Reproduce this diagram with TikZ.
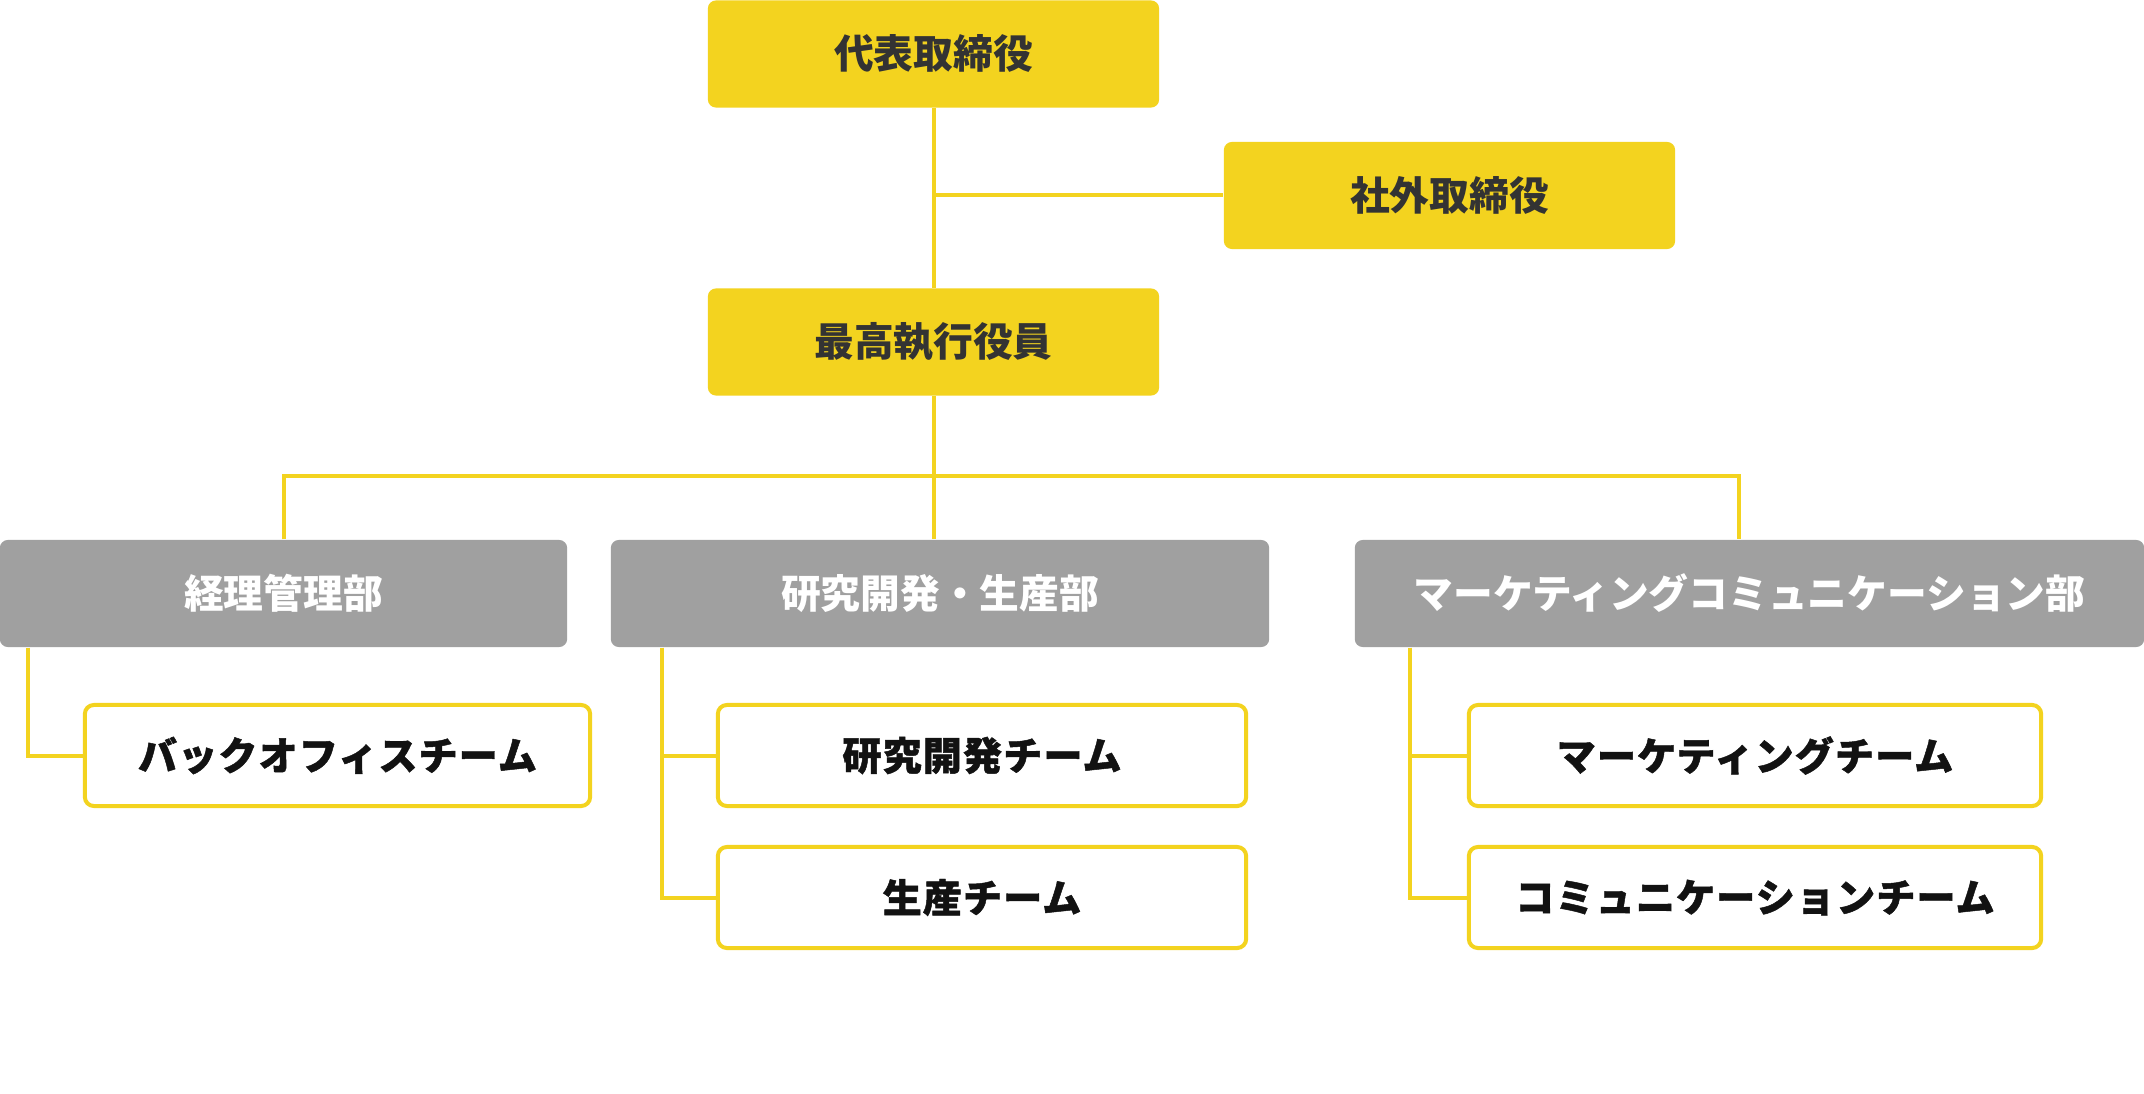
\documentclass[tikz,border=0pt]{standalone}
\usepackage{fontspec}
\newfontfamily\jpfont{Noto Sans CJK JP}
\newfontfamily\teamfont{Noto Sans CJK JP}[LetterSpace=3,BoldFeatures={FakeBold=1.2}]
\definecolor{orgyellow}{HTML}{F3D31F}
\definecolor{orggray}{HTML}{A0A0A0}
\definecolor{orgtext}{HTML}{333333}

\tikzstyle{exec}=[fill=orgyellow,rounded corners=0.08cm,inner sep=0pt,minimum height=1.07cm,text=orgtext,font=\jpfont\bfseries\fontsize{11.3}{13}\selectfont]
\tikzstyle{dept}=[fill=orggray,rounded corners=0.08cm,inner sep=0pt,minimum height=1.07cm,text=white,font=\jpfont\bfseries\fontsize{11.3}{13}\selectfont]
\tikzstyle{team}=[draw=orgyellow,line width=0.04cm,fill=white,rounded corners=0.09cm,inner sep=0pt,minimum height=1.01cm,text=black!93,font=\teamfont\bfseries\fontsize{11.1}{13}\selectfont]
\tikzstyle{link}=[draw=orgyellow,line width=0.04cm]

\begin{document}
\begin{tikzpicture}[x=0.01cm,y=-0.01cm]
\useasboundingbox (0,0) rectangle (2144,1094);
% Executives

   \node[exec,minimum width=4.51cm] (ceo) at (933.5,54) {代表取締役};
   \node[exec,minimum width=4.51cm] (outside) at (1449.5,195.5) {社外取締役};
   \node[exec,minimum width=4.51cm] (coo) at (933.5,342) {最高執行役員};

% Departments
   \node[dept,minimum width=5.67cm] (acct) at (283.5,593.5) {経理管理部};
   \node[dept,minimum width=6.58cm] (rnd) at (940,593.5) {研究開発・生産部};
   \node[dept,minimum width=7.89cm] (mkc) at (1749.5,593.5) {マーケティングコミュニケーション部};

% Teams
   \node[team,minimum width=5.05cm] (back) at (337.5,755.5) {バックオフィスチーム};
   \node[team,minimum width=5.28cm] (dev) at (982,755.5) {研究開発チーム};
   \node[team,minimum width=5.28cm] (prod) at (982,897.5) {生産チーム};
   \node[team,minimum width=5.72cm] (mkt) at (1755,755.5) {マーケティングチーム};
   \node[team,minimum width=5.72cm] (comm) at (1755,897.5) {コミュニケーションチーム};

   \coordinate (busl) at (283.5,476);
   \coordinate (busr) at (1739,476);
   \coordinate (acctdown) at (28,647.5);
   \coordinate (rnddown) at (662,647.5);
   \coordinate (mkcdown) at (1410,647.5);

\draw[link] (ceo.south) -- (coo.north);
   \draw[link] (ceo.south |- outside.west) -- (outside.west);
\draw[link] (coo.south) -- (coo.south |- rnd.north);
   \draw[link] (acct.north) -- (busl) -- (busr) -- (busr |- mkc.north);

\draw[link] (acctdown) |- (back.west);
   \draw[link] (rnddown) |- (dev.west);
   \draw[link] (rnddown) |- (prod.west);
\draw[link] (mkcdown) |- (mkt.west);
   \draw[link] (mkcdown) |- (comm.west);

\end{tikzpicture}
\end{document}
